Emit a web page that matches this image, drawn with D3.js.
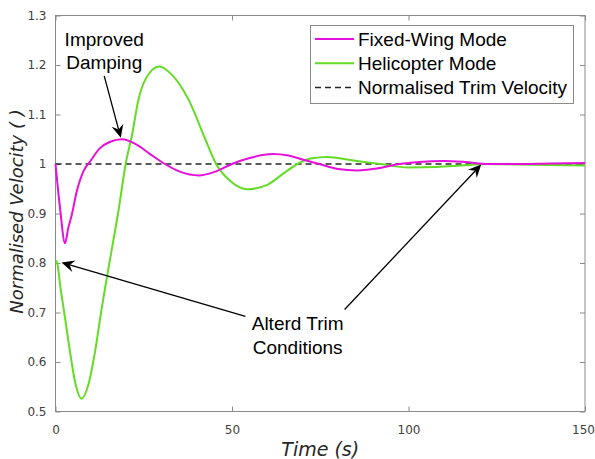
<!DOCTYPE html>
<html>
<head>
<meta charset="utf-8">
<script src="https://cdn.jsdelivr.net/npm/d3@7"></script>
<style>
  html, body { margin: 0; padding: 0; background: #fff; }
</style>
</head>
<body>
<div id="chart"></div>
<script>
// Fixed-wing response (time in s, normalised velocity)
const fixedWingT = [0, 1.3, 2.7, 3.6, 4.6, 6, 7.9, 9.8, 12.6, 15.5, 18.8, 23, 26.8, 31, 35.4, 40.6, 45, 50, 55, 61.4, 66, 70, 74.7, 80, 85.6, 91, 97.5, 103, 110, 116, 122.5, 130, 140, 150];
const fixedWingV = [1.0, 0.91, 0.84, 0.87, 0.897, 0.944, 0.985, 1.005, 1.032, 1.045, 1.05, 1.039, 1.02, 1.0, 0.984, 0.977, 0.984, 1.0, 1.012, 1.02, 1.017, 1.009, 1.0, 0.99, 0.987, 0.991, 1.0, 1.004, 1.006, 1.004, 1.0, 1.0, 1.001, 1.002];

// Helicopter response
const heliT = [0, 0.5, 1.3, 2.7, 4.1, 5.5, 7.4, 9.3, 11.2, 13.1, 15, 17.8, 20, 21.6, 23.5, 25.4, 29.4, 33, 37.7, 42.5, 45.5, 49.6, 54.3, 60, 64.6, 68.5, 72.3, 77, 83.5, 92, 100, 108, 115, 122, 130, 140, 150];
const heliV = [0.805, 0.799, 0.756, 0.689, 0.621, 0.561, 0.526, 0.554, 0.621, 0.709, 0.789, 0.904, 1.005, 1.056, 1.13, 1.17, 1.197, 1.18, 1.13, 1.049, 1.0, 0.965, 0.949, 0.958, 0.981, 1.0, 1.011, 1.014, 1.008, 1.0, 0.993, 0.994, 0.997, 1.0, 0.999, 0.998, 0.997];

const trimValue = 1.0;

const xTicks = [0, 50, 100, 150];
const yTicks = [0.5, 0.6, 0.7, 0.8, 0.9, 1.0, 1.1, 1.2, 1.3];
const yTickLabels = ["0.5", "0.6", "0.7", "0.8", "0.9", "1", "1.1", "1.2", "1.3"];

const legendLabels = ["Fixed-Wing Mode", "Helicopter Mode", "Normalised Trim Velocity"];

// Annotations in data coordinates
const dampingText = ["Improved", "Damping"];
const dampingTextPos = [[13.8, 1.239], [13.8, 1.191]];
const dampingArrow = [[13.8, 1.178], [18.5, 1.053]];

const trimText = ["Alterd Trim", "Conditions"];
const trimTextPos = [[68.6, 0.664], [68.6, 0.616]];
const trimArrows = [
  [[53.8, 0.692], [1.7, 0.801]],
  [[81.9, 0.706], [120.6, 0.999]]
];

const W = 595, H = 459;
const margin = { top: 15.5, right: 10, bottom: 47.5, left: 55.5 };
const width = W - margin.left - margin.right;
const height = H - margin.top - margin.bottom;

const magenta = "#e60fdc";
const green = "#62dc24";
const axisGrey = "#8a8a8a";
const tickText = "#404040";

const svg = d3.select("#chart").append("svg")
  .attr("width", W)
  .attr("height", H);

const g = svg.append("g")
  .attr("transform", `translate(${margin.left},${margin.top})`);

const x = d3.scaleLinear().domain([0, 150]).range([0, width]);
const y = d3.scaleLinear().domain([0.5, 1.3]).range([height, 0]);

// Axes (ticks inside, mirrored on top/right)
const tickFont = "DejaVu Sans, Verdana, sans-serif";

g.append("g")
  .attr("transform", `translate(0,${height})`)
  .call(d3.axisBottom(x).tickValues(xTicks).tickSize(-5).tickPadding(14).tickFormat(d3.format("d")))
  .call(a => a.select(".domain").remove())
  .call(a => a.selectAll("line").attr("stroke", axisGrey))
  .call(a => a.selectAll("text").attr("fill", tickText).style("font-family", tickFont).style("font-size", "12px")
    .attr("dx", d => d === 150 ? -2 : 0));

g.append("g")
  .call(d3.axisTop(x).tickValues(xTicks).tickSize(-5).tickFormat(""))
  .call(a => a.select(".domain").remove())
  .call(a => a.selectAll("line").attr("stroke", axisGrey));

g.append("g")
  .call(d3.axisLeft(y).tickValues(yTicks).tickSize(-5).tickPadding(9).tickFormat((d, i) => yTickLabels[i]))
  .call(a => a.select(".domain").remove())
  .call(a => a.selectAll("line").attr("stroke", axisGrey))
  .call(a => a.selectAll("text").attr("fill", tickText).style("font-family", tickFont).style("font-size", "12px"));

g.append("g")
  .attr("transform", `translate(${width},0)`)
  .call(d3.axisRight(y).tickValues(yTicks).tickSize(-5).tickFormat(""))
  .call(a => a.select(".domain").remove())
  .call(a => a.selectAll("line").attr("stroke", axisGrey));

g.append("rect")
  .attr("width", width)
  .attr("height", height)
  .attr("fill", "none")
  .attr("stroke", axisGrey)
  .attr("stroke-width", 1);

// Trim line
g.append("line")
  .attr("x1", x(0)).attr("x2", x(150))
  .attr("y1", y(trimValue)).attr("y2", y(trimValue))
  .attr("stroke", "#262626")
  .attr("stroke-width", 1.5)
  .attr("stroke-dasharray", "6,4");

const line = d3.line()
  .x(d => x(d[0]))
  .y(d => y(d[1]))
  .curve(d3.curveMonotoneX);

g.append("path")
  .datum(heliT.map((t, i) => [t, heliV[i]]))
  .attr("d", line)
  .attr("fill", "none")
  .attr("stroke", green)
  .attr("stroke-width", 2);

g.append("path")
  .datum(fixedWingT.map((t, i) => [t, fixedWingV[i]]))
  .attr("d", line)
  .attr("fill", "none")
  .attr("stroke", magenta)
  .attr("stroke-width", 2);

// Axis labels
svg.append("text")
  .attr("x", margin.left + width / 2)
  .attr("y", 456)
  .attr("text-anchor", "middle")
  .style("font-family", tickFont)
  .style("font-style", "italic")
  .style("font-size", "19px")
  .attr("fill", "#262626")
  .text("Time (s)");

svg.append("text")
  .attr("transform", `translate(23,${margin.top + height / 2 - 2}) rotate(-90)`)
  .attr("text-anchor", "middle")
  .style("font-family", tickFont)
  .style("font-style", "italic")
  .style("font-size", "18px")
  .attr("fill", "#262626")
  .text("Normalised Velocity ( )");

// Arrow helper: line plus filled MATLAB-like head
const annFont = "Liberation Sans, Arial, sans-serif";
function drawArrow(from, to) {
  const x1 = x(from[0]), y1 = y(from[1]);
  const x2 = x(to[0]), y2 = y(to[1]);
  const ang = Math.atan2(y2 - y1, x2 - x1);
  const len = 13, half = 6, notch = 8.5;
  const ux = Math.cos(ang), uy = Math.sin(ang);
  const px = -uy, py = ux;
  const bx = x2 - ux * len, by = y2 - uy * len;
  const nx = x2 - ux * notch, ny = y2 - uy * notch;
  g.append("line")
    .attr("x1", x1).attr("y1", y1)
    .attr("x2", nx).attr("y2", ny)
    .attr("stroke", "#000")
    .attr("stroke-width", 1.3);
  g.append("path")
    .attr("d", `M${x2},${y2}L${bx + px * half},${by + py * half}L${nx},${ny}L${bx - px * half},${by - py * half}Z`)
    .attr("fill", "#000");
}

dampingText.forEach((t, i) => {
  g.append("text")
    .attr("x", x(dampingTextPos[i][0]))
    .attr("y", y(dampingTextPos[i][1]))
    .attr("text-anchor", "middle")
    .style("font-family", annFont)
    .style("font-size", "19px")
    .attr("fill", "#000")
    .text(t);
});
drawArrow(dampingArrow[0], dampingArrow[1]);

trimText.forEach((t, i) => {
  g.append("text")
    .attr("x", x(trimTextPos[i][0]))
    .attr("y", y(trimTextPos[i][1]))
    .attr("text-anchor", "middle")
    .style("font-family", annFont)
    .style("font-size", "19px")
    .attr("fill", "#000")
    .text(t);
});
trimArrows.forEach(a => drawArrow(a[0], a[1]));

// Legend
const legend = svg.append("g").attr("transform", "translate(310.5,25.5)");
legend.append("rect")
  .attr("width", 263)
  .attr("height", 78)
  .attr("fill", "#fff")
  .attr("stroke", "#8a8a8a")
  .attr("stroke-width", 1);

const legendStyles = [
  { color: magenta, dash: null },
  { color: green, dash: null },
  { color: "#262626", dash: "6,4" }
];
legendLabels.forEach((lab, i) => {
  const ly = 13.5 + i * 24.3;
  legend.append("line")
    .attr("x1", 4.5).attr("x2", 43.5)
    .attr("y1", ly).attr("y2", ly)
    .attr("stroke", legendStyles[i].color)
    .attr("stroke-width", i === 2 ? 1.5 : 2)
    .attr("stroke-dasharray", legendStyles[i].dash);
  legend.append("text")
    .attr("x", 47.5)
    .attr("y", ly + 6.5)
    .style("font-family", annFont)
    .style("font-size", "19px")
    .attr("fill", "#000")
    .text(lab);
});
</script>
</body>
</html>
